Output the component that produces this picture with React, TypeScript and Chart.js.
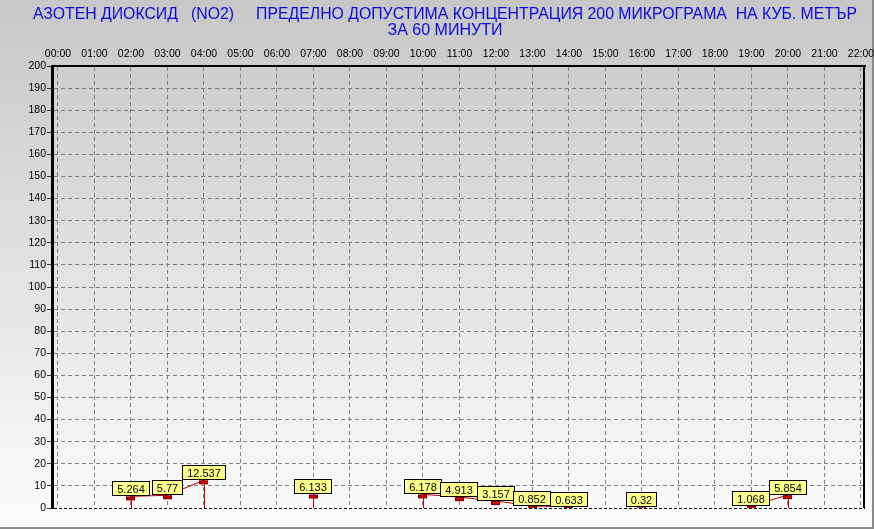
import React, { useEffect, useRef } from 'react';
import { Chart, registerables } from 'chart.js';

Chart.register(...registerables);

const TITLE_LINES = [
  'АЗОТЕН ДИОКСИД   (NO2)     ПРЕДЕЛНО ДОПУСТИМА КОНЦЕНТРАЦИЯ 200 МИКРОГРАМА  НА КУБ. МЕТЪР',
  'ЗА 60 МИНУТИ',
];

const HOURS = [0, 1, 2, 3, 4, 5, 6, 7, 8, 9, 10, 11, 12, 13, 14, 15, 16, 17, 18, 19, 20, 21, 22];
const HOUR_LABELS = [
  '00:00', '01:00', '02:00', '03:00', '04:00', '05:00', '06:00', '07:00', '08:00', '09:00', '10:00', '11:00',
  '12:00', '13:00', '14:00', '15:00', '16:00', '17:00', '18:00', '19:00', '20:00', '21:00', '22:00',
];
const NO2_VALUES: (number | null)[] = [
  null, null, 5.264, 5.77, 12.537, null, null, 6.133, null, null, 6.178, 4.913,
  3.157, 0.852, 0.633, null, 0.32, null, null, 1.068, 5.854, null, null,
];

const Y_MIN = 0;
const Y_MAX = 200;
const Y_STEP = 10;
const X_MIN = -0.164;
const X_MAX = 22.11;

const FONT = "'Liberation Sans', Arial, sans-serif";

export default function App() {
  const canvasRef = useRef<HTMLCanvasElement | null>(null);

  useEffect(() => {
    const canvas = canvasRef.current;
    if (!canvas) return;

    const marker = document.createElement('canvas');
    marker.width = 9;
    marker.height = 10;
    const mctx = marker.getContext('2d')!;
    mctx.fillStyle = '#d40000';
    mctx.fillRect(0, 5, 9, 4);
    mctx.strokeStyle = '#7a0000';
    mctx.lineWidth = 1;
    mctx.strokeRect(0.5, 5.5, 8, 3);

    const bgPlugin = {
      id: 'bgTitle',
      beforeDraw(chart: any) {
        const { ctx, width, height } = chart;
        ctx.save();
        const g = ctx.createLinearGradient(0, 0, 0, height);
        g.addColorStop(0, '#c7c7c7');
        g.addColorStop(1, '#fcfcfc');
        ctx.fillStyle = g;
        ctx.fillRect(0, 0, width, height);
        ctx.fillStyle = '#8a8a8a';
        ctx.fillRect(width - 2, 0, 2, height);
        ctx.fillRect(0, height - 2, width, 2);
        ctx.fillStyle = '#0a0ad8';
        ctx.font = `16px ${FONT}`;
        ctx.textAlign = 'center';
        ctx.textBaseline = 'alphabetic';
        ctx.fillText(TITLE_LINES[0], 445, 18.5, 824);
        ctx.fillText(TITLE_LINES[1], 445, 35);
        ctx.restore();
      },
    };

    const markPlugin = {
      id: 'marks',
      beforeDatasetsDraw(chart: any) {
        const { ctx } = chart;
        const xs = chart.scales.x;
        const ys = chart.scales.y;
        const base = ys.getPixelForValue(Y_MIN);
        ctx.save();
        ctx.strokeStyle = '#d00000';
        ctx.lineWidth = 1;
        NO2_VALUES.forEach((v, i) => {
          if (v == null) return;
          const prev = i > 0 ? NO2_VALUES[i - 1] : null;
          const next = i < NO2_VALUES.length - 1 ? NO2_VALUES[i + 1] : null;
          if (prev != null && next != null) return;
          const x = Math.round(xs.getPixelForValue(HOURS[i])) + 0.5;
          const y = ys.getPixelForValue(v);
          ctx.beginPath();
          ctx.moveTo(x, y);
          ctx.lineTo(x, base);
          ctx.stroke();
        });
        ctx.restore();
      },
      afterDatasetsDraw(chart: any) {
        const { ctx, chartArea } = chart;
        const xs = chart.scales.x;
        const ys = chart.scales.y;
        ctx.save();
        ctx.strokeStyle = '#000';
        ctx.lineWidth = 2;
        ctx.beginPath();
        ctx.moveTo(chartArea.right - 1, chartArea.top - 1);
        ctx.lineTo(chartArea.right - 1, chartArea.bottom);
        ctx.stroke();
        ctx.font = `11px ${FONT}`;
        ctx.textAlign = 'center';
        ctx.textBaseline = 'middle';
        ctx.lineWidth = 1;
        NO2_VALUES.forEach((v, i) => {
          if (v == null) return;
          const text = String(v);
          const px = xs.getPixelForValue(HOURS[i]);
          const py = ys.getPixelForValue(v);
          const w = Math.round(ctx.measureText(text).width + 10);
          const h = 15;
          const bx = Math.round(px - w / 2);
          const by = Math.round(py - h);
          ctx.fillStyle = '#ffff8c';
          ctx.fillRect(bx, by, w, h);
          ctx.strokeStyle = '#000';
          ctx.strokeRect(bx + 0.5, by + 0.5, w - 1, h - 1);
          ctx.fillStyle = '#000';
          ctx.fillText(text, bx + w / 2, by + h / 2 + 1);
        });
        ctx.restore();
      },
    };

    const chart = new Chart(canvas, {
      type: 'line',
      data: {
        datasets: [
          {
            data: HOURS.map((h, i) => ({ x: h, y: NO2_VALUES[i] })) as any,
            borderColor: '#c00000',
            borderWidth: 1,
            pointStyle: marker as any,
            pointRadius: 3,
            spanGaps: false,
            tension: 0,
          },
        ],
      },
      options: {
        responsive: false,
        animation: false,
        devicePixelRatio: 1,
        layout: { padding: { top: 40, right: 9, bottom: 21, left: 0 } },
        plugins: {
          legend: { display: false },
          title: { display: false },
          tooltip: { enabled: false },
        },
        scales: {
          x: {
            type: 'linear',
            position: 'top',
            min: X_MIN,
            max: X_MAX,
            afterBuildTicks: (s: any) => {
              s.ticks = HOURS.map((v) => ({ value: v }));
            },
            afterFit: (s: any) => {
              s.height = 26;
              s.paddingLeft = 0;
              s.paddingRight = 0;
            },
            ticks: {
              autoSkip: false,
              maxRotation: 0,
              padding: 6,
              color: '#000',
              font: { family: FONT, size: 10.5 },
              callback: (v: any) => HOUR_LABELS[HOURS.indexOf(Number(v))] ?? '',
            },
            grid: {
              color: '#808080',
              lineWidth: 1,
              drawTicks: false,
            },
            border: { display: true, color: '#000', width: 2, dash: [4, 3] },
          },
          y: {
            type: 'linear',
            position: 'left',
            min: Y_MIN,
            max: Y_MAX,
            afterFit: (s: any) => {
              s.width = 52;
              s.paddingTop = 0;
              s.paddingBottom = 0;
            },
            ticks: {
              stepSize: Y_STEP,
              padding: 1,
              color: '#000',
              font: { family: FONT, size: 10.5 },
            },
            grid: {
              color: (c: any) => (c.tick && c.tick.value === Y_MIN ? '#000' : '#808080'),
              lineWidth: 1,
              drawTicks: true,
              tickLength: 5,
              tickColor: '#333',
              tickBorderDash: [],
            },
            border: {
              display: true,
              color: '#000',
              width: 3,
              dash: (c: any) => (c.tick && c.tick.value === Y_MIN ? [3, 2] : [4, 3]),
            } as any,
          },
        },
      },
      plugins: [bgPlugin, markPlugin],
    });

    return () => chart.destroy();
  }, []);

  return (
    <div style={{ position: 'fixed', left: 0, top: 0, width: 874, height: 529 }}>
      <canvas ref={canvasRef} width={874} height={529} style={{ width: 874, height: 529, display: 'block' }} />
    </div>
  );
}
